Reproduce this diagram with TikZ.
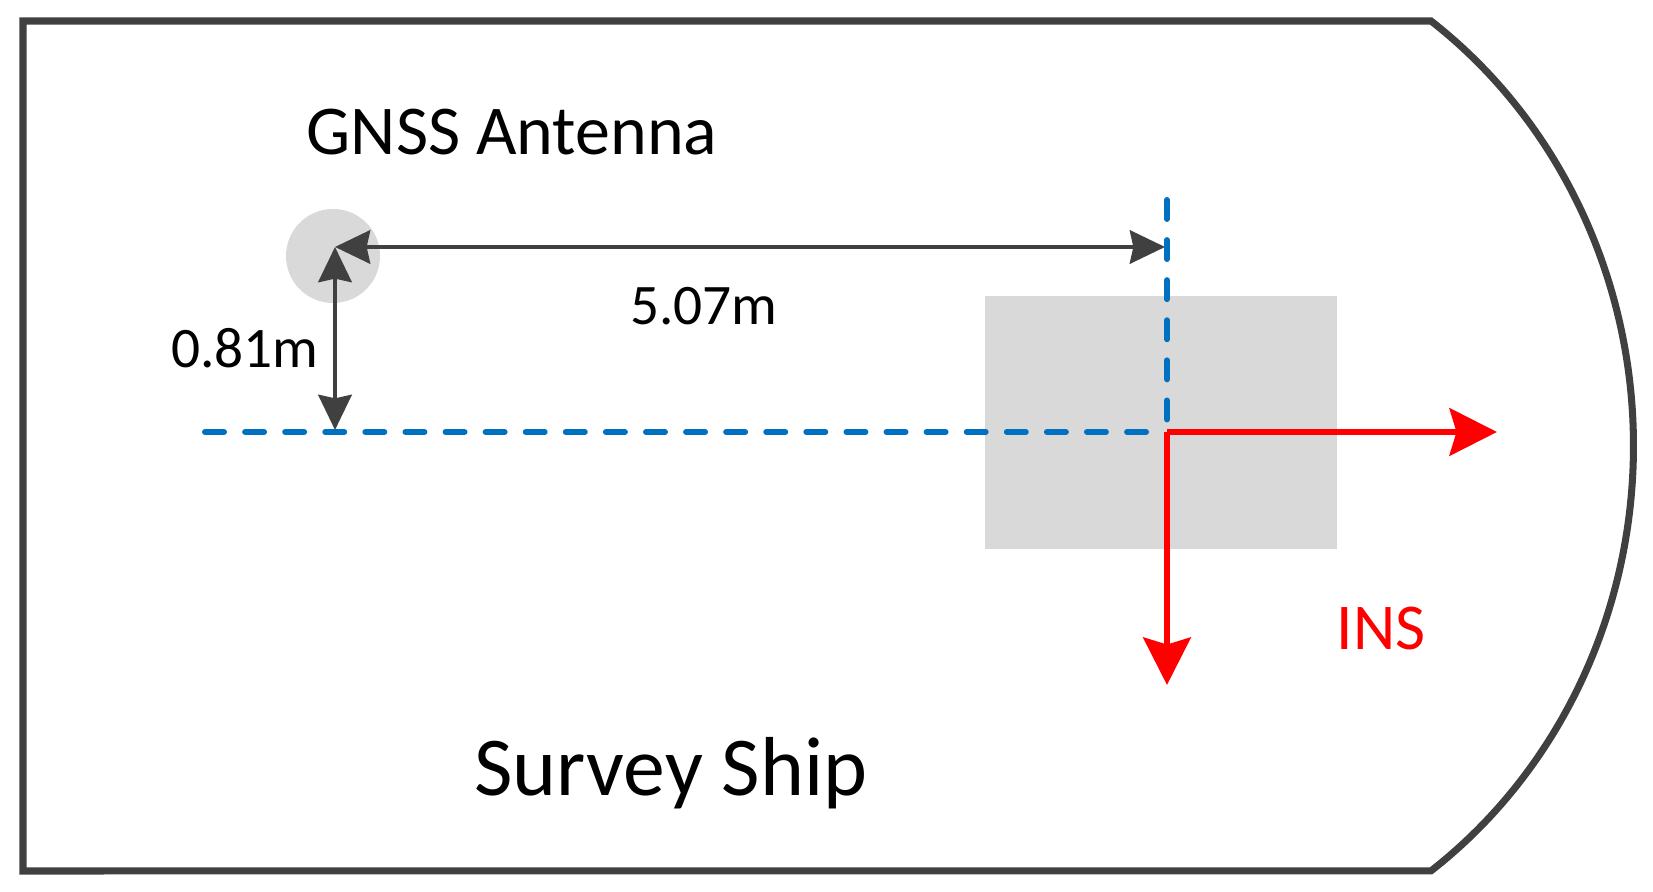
\documentclass[tikz,border=0pt]{standalone}
\usepackage{fontspec}
\setmainfont{Carlito}
\usetikzlibrary{arrows.meta}
\definecolor{dkgray}{HTML}{404040}
\definecolor{lgray}{HTML}{D9D9D9}
\definecolor{dblue}{HTML}{0070C0}
\definecolor{ired}{HTML}{FF0000}
\tikzset{
  ship/.style={draw=dkgray, line width=2pt, line join=miter},
  dimarrow/.style={draw=dkgray, line width=1.15pt, {Stealth[length=10pt,width=9.5pt,inset=1pt]}-{Stealth[length=10pt,width=9.5pt,inset=1pt]}},
  refline/.style={draw=dblue, line width=1.7pt, line cap=round, dash pattern=on 5.4pt off 6pt},
  axisarrow/.style={draw=ired, line width=1.7pt, -{Stealth[length=13.5pt,width=13.5pt,inset=2pt]}},
  lbl/.style={inner sep=0pt, text=black}
}
\begin{document}
\begin{tikzpicture}[x=0.01cm,y=-0.01cm]
\useasboundingbox (0,0) rectangle (1653,892);
% ship outline
\draw[ship] (23,21) -- (1431,21)
  arc[start angle=53.7, end angle=-53.7, x radius=4.96cm, y radius=5.27cm]
  -- (23,871) -- cycle;
% INS box and antenna
\node[fill=lgray, minimum width=3.52cm, minimum height=2.53cm, inner sep=0pt] (imu) at (1161,422.5) {};
\node[circle, fill=lgray, minimum size=0.94cm, inner sep=0pt] (ant) at (333,256) {};
% coordinates
\coordinate (apc) at (335,247);
\coordinate (dimR) at (1165,247);
\coordinate (dimB) at (335,430);
\coordinate (o) at (1167,432);
\coordinate (bl) at (205,432);
\coordinate (bt) at (1167,200);
\coordinate (xend) at (1497,432);
\coordinate (yend) at (1167,685);
% dimension arrows
\draw[dimarrow] (apc) -- (dimR);
\draw[dimarrow] (apc) -- (dimB);
% reference lines
\draw[refline] (bl) -- (o);
\draw[refline] (bt) -- (o);
% INS axes
\draw[axisarrow] (o) -- (xend);
\draw[axisarrow] (o) -- (yend);
% labels
\node[lbl, font=\fontsize{19.9}{24}\selectfont] (gnss) at (512,132) {GNSS Antenna};
\node[lbl, font=\fontsize{16.3}{20}\selectfont] (d1) at (704,306) {5.07m};
\node[lbl, font=\fontsize{16.3}{20}\selectfont] (d2) at (245,348) {0.81m};
\node[lbl, text=ired, font=\fontsize{18.6}{22}\selectfont] (ins) at (1381,629) {INS};
\node[lbl, font=\fontsize{23.8}{29}\selectfont] (sship) at (671,773) {Survey Ship};
\end{tikzpicture}
\end{document}
